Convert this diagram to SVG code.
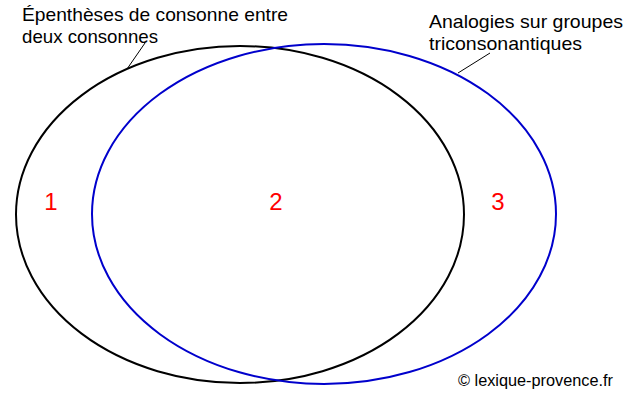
<svg xmlns="http://www.w3.org/2000/svg" width="640" height="400" viewBox="0 0 640 400">
<style>
.lbl{font-family:"Liberation Sans",Arial,sans-serif;font-size:19px;fill:#000}
.num{font-family:"Liberation Sans",Arial,sans-serif;font-size:24px;fill:#ff0000;text-anchor:middle}
.copy{font-family:"Liberation Sans",Arial,sans-serif;font-size:16px;fill:#000}
.set{fill:none;stroke-width:2}
.lead{stroke:#000;stroke-width:1;fill:none}
</style>
<rect width="640" height="400" fill="#fff"/>
<g id="set-epentheses">
<ellipse class="set" cx="240" cy="214.5" rx="224" ry="168.5" stroke="#000"/>
</g>
<g id="set-analogies">
<ellipse class="set" cx="324" cy="214" rx="232" ry="170" stroke="#0000cc"/>
</g>
<g id="connectors">
<line class="lead" x1="127" y1="69" x2="145" y2="43"/>
<line class="lead" x1="458" y1="73" x2="490" y2="53"/>
</g>
<g id="label-epentheses">
<text class="lbl" x="22" y="21" textLength="266" lengthAdjust="spacingAndGlyphs">Épenthèses de consonne entre</text>
<text class="lbl" x="22" y="43" textLength="136" lengthAdjust="spacingAndGlyphs">deux consonnes</text>
</g>
<g id="label-analogies">
<text class="lbl" x="429" y="28" textLength="194" lengthAdjust="spacingAndGlyphs">Analogies sur groupes</text>
<text class="lbl" x="429" y="50" textLength="153" lengthAdjust="spacingAndGlyphs">triconsonantiques</text>
</g>
<g id="region-1"><text class="num" x="51" y="210">1</text></g>
<g id="region-2"><text class="num" x="276" y="210">2</text></g>
<g id="region-3"><text class="num" x="498" y="210">3</text></g>
<g id="credit">
<text class="copy" x="458" y="386" textLength="155" lengthAdjust="spacingAndGlyphs">© lexique-provence.fr</text>
</g>
</svg>
